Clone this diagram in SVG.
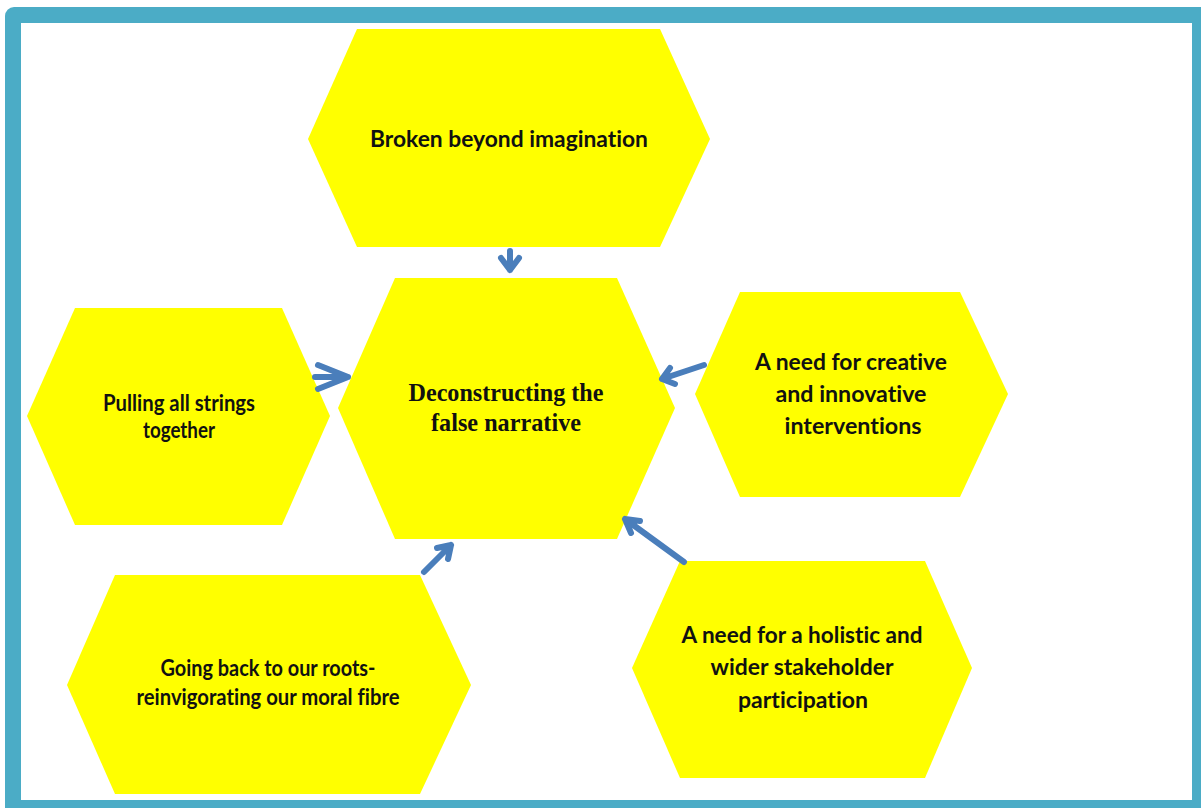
<svg xmlns="http://www.w3.org/2000/svg" width="1201" height="808" viewBox="0 0 1201 808">
<style>
.hex{fill:#FFFF00;}
.t{font-family:"Lato","Open Sans","Liberation Sans",sans-serif;font-weight:bold;font-size:23px;fill:#111;text-anchor:middle;font-variant-ligatures:none;}
.s{font-family:"Liberation Serif","Times New Roman",serif;font-weight:bold;font-size:25px;fill:#111;text-anchor:middle;}
.arr{stroke:#4A7EBB;stroke-width:6;stroke-linecap:round;stroke-linejoin:round;fill:none;}
</style>
<rect x="5" y="7" width="1210" height="815" rx="9" fill="#4BACC6"/>
<rect x="21" y="23" width="1171" height="777" fill="#FFFFFF"/>
<g id="node-top">
<polygon class="hex" points="357,29 660,29 710,139 660,247 357,247 308,139"/>
<text class="t" x="509" y="147" textLength="278" lengthAdjust="spacingAndGlyphs">Broken beyond imagination</text>
</g>
<g id="node-center">
<polygon class="hex" points="395,278 617,278 675,408 617,539 395,539 338,408"/>
<text class="s" x="506" y="401" textLength="195" lengthAdjust="spacingAndGlyphs">Deconstructing the</text>
<text class="s" x="506" y="431" textLength="150" lengthAdjust="spacingAndGlyphs">false narrative</text>
</g>
<g id="node-left">
<polygon class="hex" points="75,308 282,308 330,416 282,525 75,525 27,416"/>
<text class="t" x="179" y="411" textLength="152" lengthAdjust="spacingAndGlyphs">Pulling all strings</text>
<text class="t" x="179" y="438" textLength="72" lengthAdjust="spacingAndGlyphs">together</text>
</g>
<g id="node-right">
<polygon class="hex" points="740,292 960,292 1008,394 960,497 740,497 695,394"/>
<text class="t" x="851" y="370" textLength="192" lengthAdjust="spacingAndGlyphs">A need for creative</text>
<text class="t" x="851" y="402" textLength="151" lengthAdjust="spacingAndGlyphs">and innovative</text>
<text class="t" x="853" y="434" textLength="137" lengthAdjust="spacingAndGlyphs">interventions</text>
</g>
<g id="node-bottom-left">
<polygon class="hex" points="115,575 420,575 471,685 420,794 115,794 67,685"/>
<text class="t" x="268" y="676" textLength="215" lengthAdjust="spacingAndGlyphs">Going back to our roots-</text>
<text class="t" x="268" y="705" textLength="263" lengthAdjust="spacingAndGlyphs">reinvigorating our moral fibre</text>
</g>
<g id="node-bottom-right">
<polygon class="hex" points="680,561 925,561 972,668 925,778 680,778 632,668"/>
<text class="t" x="802" y="643" textLength="241" lengthAdjust="spacingAndGlyphs">A need for a holistic and</text>
<text class="t" x="802" y="675" textLength="183" lengthAdjust="spacingAndGlyphs">wider stakeholder</text>
<text class="t" x="803" y="708" textLength="130" lengthAdjust="spacingAndGlyphs">participation</text>
</g>
<g id="connectors">
<path class="arr" d="M510,251 L510,270 M501,258 L510,270 L519,258"/>
<path class="arr" d="M315,377 L348,377 M318,365 L348,377 L318,389"/>
<path class="arr" d="M704,365 L662,379 M670,368 L662,379 L675,384"/>
<path class="arr" d="M424,572 L451,545 M437,548 L451,545 L448,559"/>
<path class="arr" d="M684,562 L625,519 M640,521 L625,519 L631,533"/>
</g>
</svg>
